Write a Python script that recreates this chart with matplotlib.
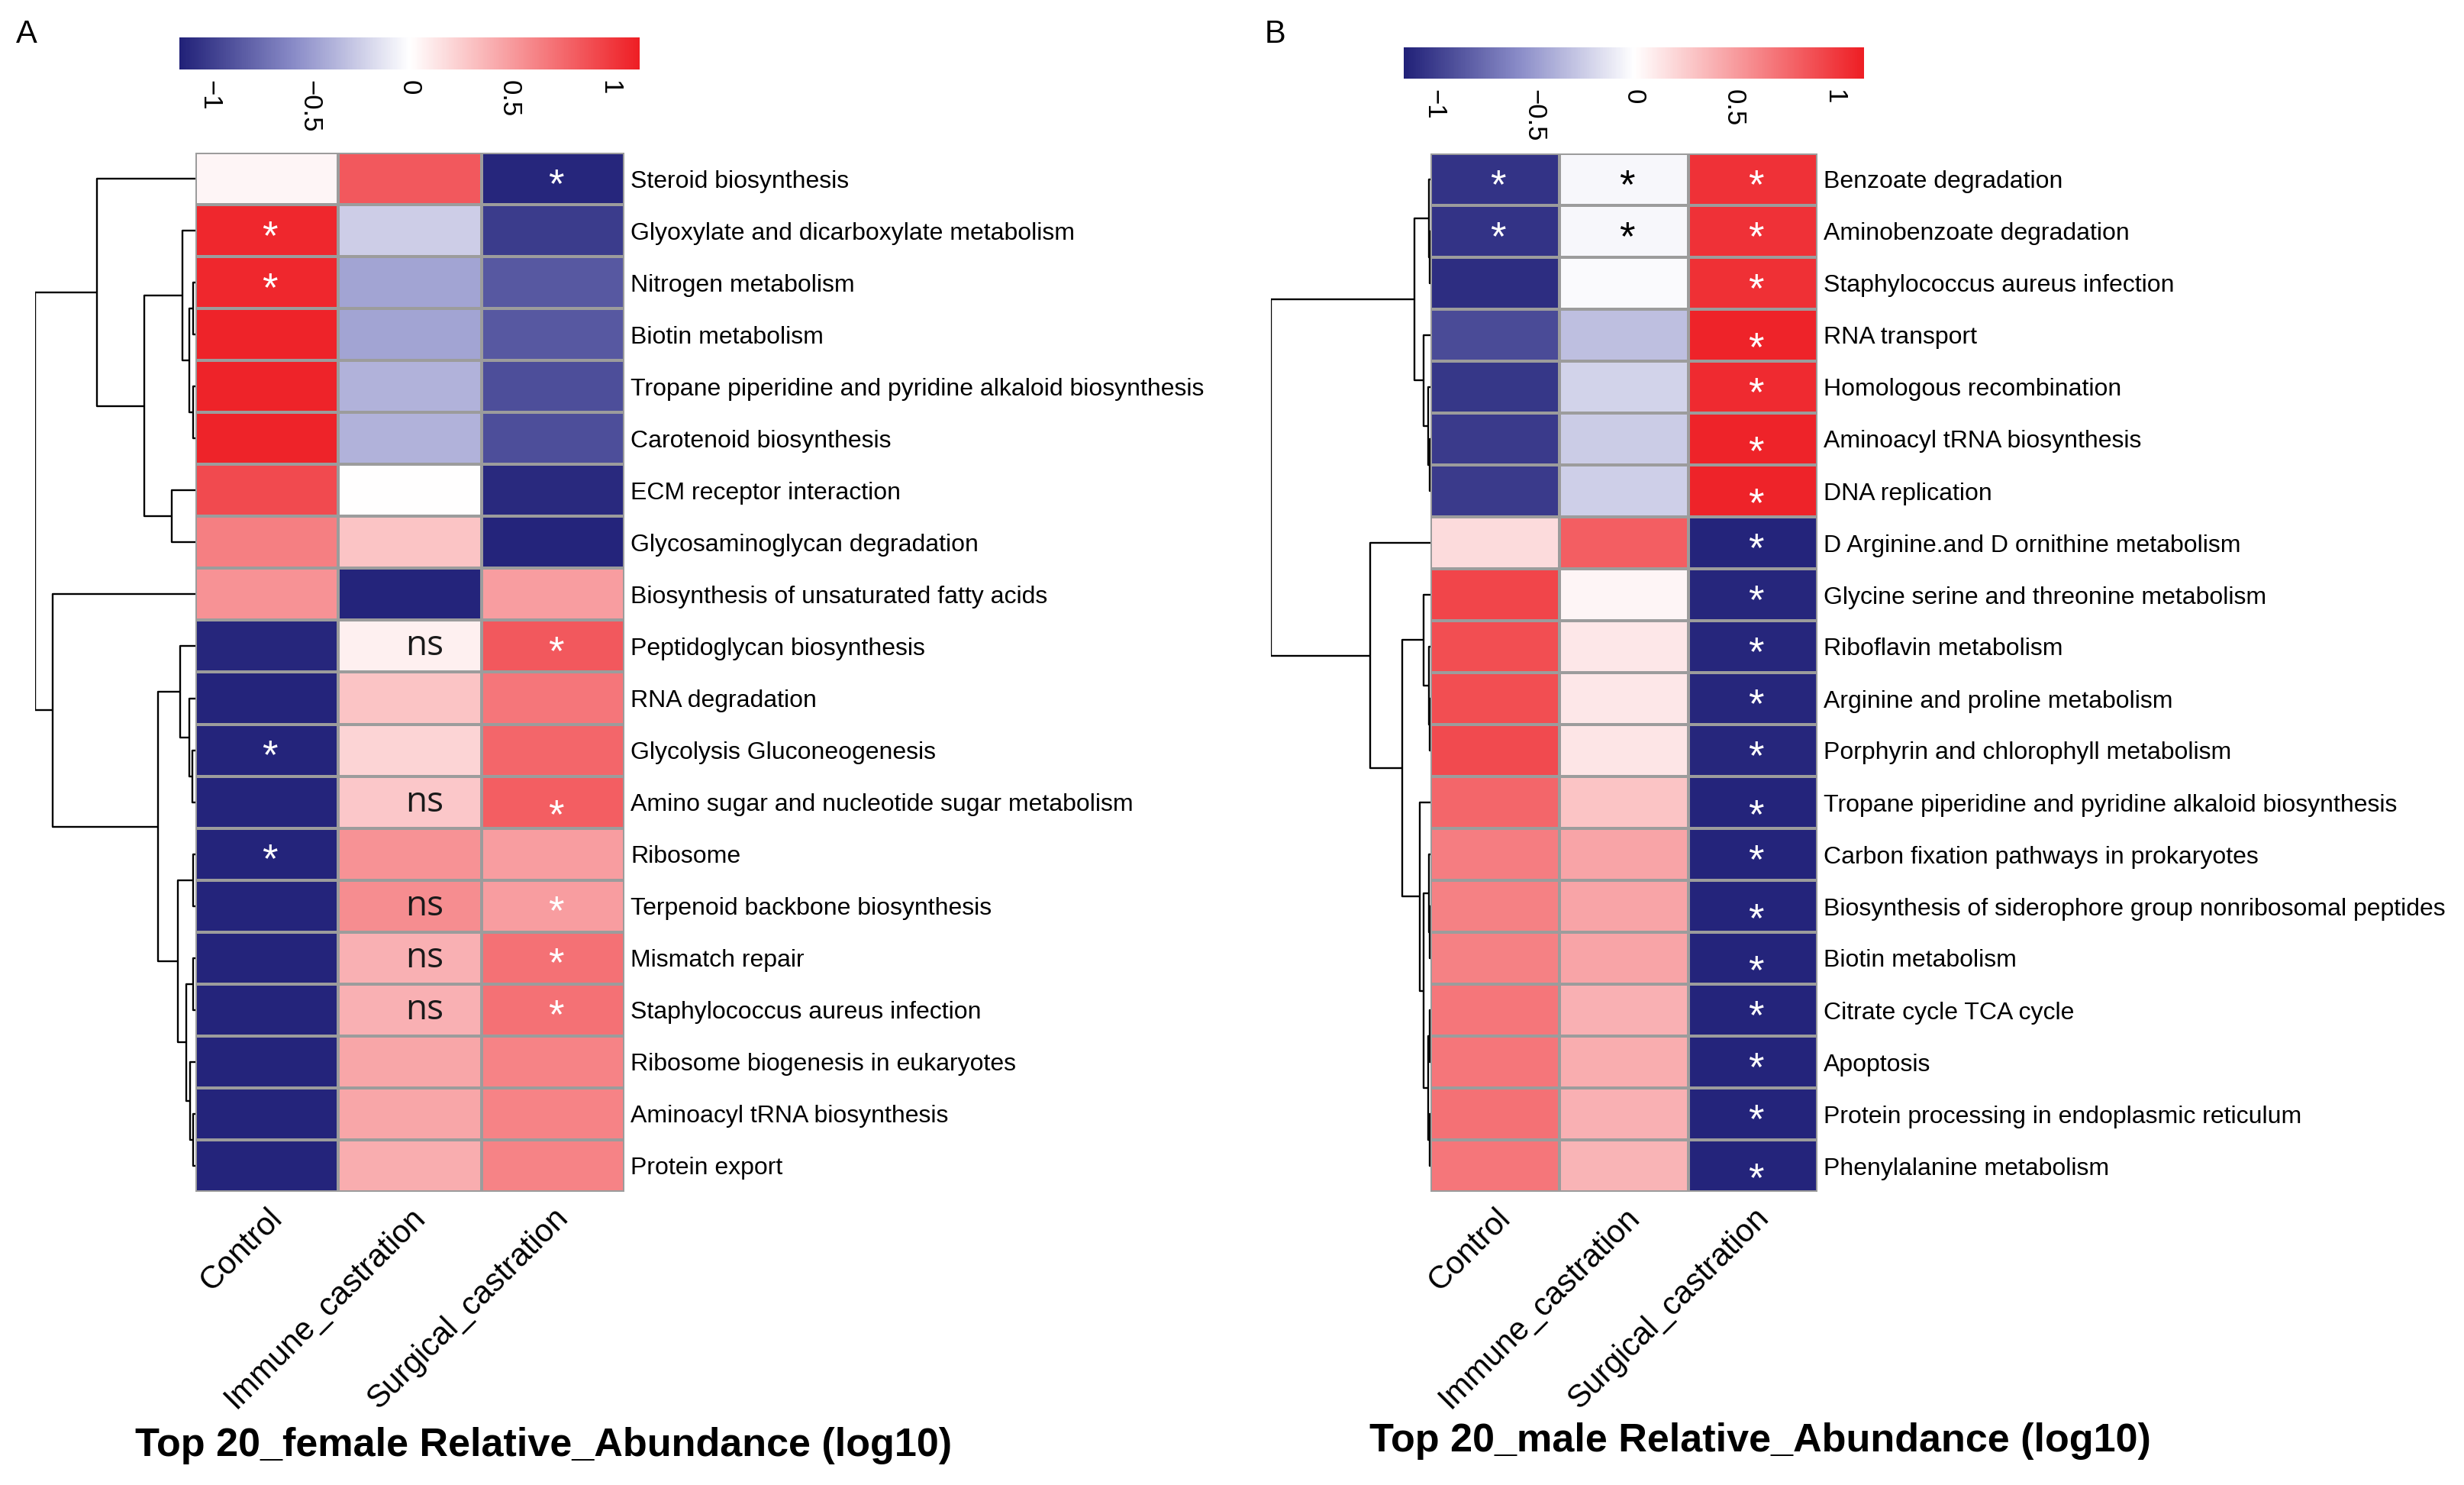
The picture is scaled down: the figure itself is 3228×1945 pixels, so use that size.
import numpy as np
import matplotlib.pyplot as plt
from matplotlib.colors import LinearSegmentedColormap, Normalize
from matplotlib.transforms import ScaledTranslation

plt.rcParams['font.family'] = ['Liberation Sans', 'DejaVu Sans']

groups = ['Control', 'Immune_castration', 'Surgical_castration']

# panel A, female
female_pathways = [
    'Steroid biosynthesis',
    'Glyoxylate and dicarboxylate metabolism',
    'Nitrogen metabolism',
    'Biotin metabolism',
    'Tropane piperidine and pyridine alkaloid biosynthesis',
    'Carotenoid biosynthesis',
    'ECM receptor interaction',
    'Glycosaminoglycan degradation',
    'Biosynthesis of unsaturated fatty acids',
    'Peptidoglycan biosynthesis',
    'RNA degradation',
    'Glycolysis Gluconeogenesis',
    'Amino sugar and nucleotide sugar metabolism',
    'Ribosome',
    'Terpenoid backbone biosynthesis',
    'Mismatch repair',
    'Staphylococcus aureus infection',
    'Ribosome biogenesis in eukaryotes',
    'Aminoacyl tRNA biosynthesis',
    'Protein export',
]
female_values = [
    [0.05, 0.85, -1.12],
    [1.10, -0.25, -1.00],
    [1.10, -0.45, -0.85],
    [1.12, -0.45, -0.85],
    [1.12, -0.38, -0.90],
    [1.12, -0.38, -0.90],
    [0.92, 0.00, -1.10],
    [0.65, 0.30, -1.13],
    [0.55, -1.13, 0.50],
    [-1.12, 0.08, 0.85],
    [-1.13, 0.30, 0.70],
    [-1.13, 0.22, 0.78],
    [-1.13, 0.28, 0.82],
    [-1.13, 0.55, 0.50],
    [-1.13, 0.58, 0.50],
    [-1.13, 0.40, 0.72],
    [-1.13, 0.40, 0.72],
    [-1.13, 0.45, 0.63],
    [-1.13, 0.45, 0.63],
    [-1.13, 0.42, 0.63],
]
female_marks = [
    ['', '', '*'], ['*', '', ''], ['*', '', ''], ['', '', ''], ['', '', ''],
    ['', '', ''], ['', '', ''], ['', '', ''], ['', '', ''], ['', 'ns', '*'],
    ['', '', ''], ['*', '', ''], ['', 'ns', '*'], ['*', '', ''], ['', 'ns', '*'],
    ['', 'ns', '*'], ['', 'ns', '*'], ['', '', ''], ['', '', ''], ['', '', ''],
]
female_low_stars = [(12, 2)]
# row dendrogram: (merge height, left, right), leaves are row numbers
female_tree = (210, (129, 0, (66.7, (16.7, 1, (8.3, (2.7, 2, 3), (2.7, 4, 5))), (31, 6, 7))),
               (187, 8, (49, (20, 9, (8.3, 10, (4, 11, 12))),
                         (22.7, (2.7, 13, 14), (11.7, (2.7, 15, 16), (6.7, 17, (3.3, 18, 19)))))))

# panel B, male
male_pathways = [
    'Benzoate degradation',
    'Aminobenzoate degradation',
    'Staphylococcus aureus infection',
    'RNA transport',
    'Homologous recombination',
    'Aminoacyl tRNA biosynthesis',
    'DNA replication',
    'D Arginine.and D ornithine metabolism',
    'Glycine serine and threonine metabolism',
    'Riboflavin metabolism',
    'Arginine and proline metabolism',
    'Porphyrin and chlorophyll metabolism',
    'Tropane piperidine and pyridine alkaloid biosynthesis',
    'Carbon fixation pathways in prokaryotes',
    'Biosynthesis of siderophore group nonribosomal peptides',
    'Biotin metabolism',
    'Citrate cycle TCA cycle',
    'Apoptosis',
    'Protein processing in endoplasmic reticulum',
    'Phenylalanine metabolism',
]
male_values = [
    [-1.05, -0.04, 1.05],
    [-1.05, -0.04, 1.05],
    [-1.08, -0.02, 1.06],
    [-0.92, -0.32, 1.12],
    [-1.03, -0.22, 1.08],
    [-1.01, -0.26, 1.12],
    [-1.01, -0.24, 1.12],
    [0.18, 0.82, -1.13],
    [0.95, 0.05, -1.12],
    [0.90, 0.12, -1.12],
    [0.90, 0.12, -1.12],
    [0.92, 0.13, -1.12],
    [0.78, 0.30, -1.13],
    [0.66, 0.46, -1.13],
    [0.64, 0.46, -1.13],
    [0.64, 0.46, -1.13],
    [0.70, 0.40, -1.13],
    [0.70, 0.42, -1.13],
    [0.72, 0.40, -1.13],
    [0.70, 0.38, -1.13],
]
male_marks = [['*', '*', '*'], ['*', '*', '*']] + [['', '', '*'] for i in range(18)]
male_low_stars = [(3, 2), (5, 2), (6, 2), (12, 2), (14, 2), (15, 2), (19, 2)]
male_tree = (208.7, (21, (2, 0, (1, 1, 2)), (8.7, 3, (3.3, 4, (1, 5, 6)))),
             (78.7, 7, (36.7, (8.7, 8, (2, 9, (1, 10, 11))),
                        (14.3, 12, (8.7, (2, 13, (1, 14, 15)), (2.7, (1, 16, 17), (1, 18, 19)))))))

W, H = 3228, 1945
fig = plt.figure(figsize=(W / 100, H / 100), dpi=100)

cmap = LinearSegmentedColormap.from_list(
    'navy_red', [(0, '#212178'), (0.25, '#8a8cc8'), (0.5, '#ffffff'), (1, '#ee1e24')])
norm = Normalize(vmin=-1.15, vmax=1.15)


def box(x0, y0, x1, y1):
    # pixel box -> figure fraction rect
    return [x0 / W, 1 - y1 / H, (x1 - x0) / W, (y1 - y0) / H]


def draw_tree(ax, node):
    if isinstance(node, int):
        return node + 0.5, 0.0
    h, left, right = node
    y1, h1 = draw_tree(ax, left)
    y2, h2 = draw_tree(ax, right)
    ax.plot([h1, h, h, h2], [y1, y1, y2, y2], color='black', lw=1.7, solid_capstyle='butt')
    return (y1 + y2) / 2, h


def draw_panel(pathways, values, marks, low_stars, tree, hm, cb, title, title_xy, letter_xy, letter):
    values = np.array(values)
    n = len(pathways)

    ax = fig.add_axes(box(*hm))
    mesh = ax.pcolormesh(values, cmap=cmap, norm=norm, edgecolors='#9c9c9c', linewidth=1.6)
    ax.set_xlim(0, 3)
    ax.set_ylim(n, 0)
    ax.yaxis.tick_right()
    ax.set_yticks(np.arange(n) + 0.5)
    ax.set_yticklabels(pathways, fontsize=23)
    ax.set_xticks(np.arange(3) + 0.5)
    ax.set_xticklabels(groups, fontsize=30, rotation=45, ha='right', rotation_mode='anchor')
    ax.tick_params(length=0)
    ax.tick_params(axis='y', pad=6)
    ax.tick_params(axis='x', pad=10)
    for s in ax.spines.values():
        s.set_visible(False)

    for i in range(n):
        for j in range(3):
            m = marks[i][j]
            if m == '*':
                dy = -14 if (i, j) in low_stars else -7
                col = 'black' if abs(values[i, j]) < 0.3 else 'white'
                ax.text(j + 0.52, i + 0.5, '*', ha='center', va='center', fontsize=38, color=col,
                        transform=ax.transData + ScaledTranslation(0, dy / 72, fig.dpi_scale_trans))
            elif m == 'ns':
                ax.text(j + 0.6, i + 0.5, 'ns', ha='center', va='center', fontsize=33,
                        color='#1a1a1a', family='Open Sans')

    dax = fig.add_axes(box(hm[0] - tree[0], hm[1], hm[0], hm[3]))
    draw_tree(dax, tree)
    dax.set_xlim(tree[0], 0)
    dax.set_ylim(n, 0)
    dax.axis('off')

    cax = fig.add_axes(box(*cb))
    bar = fig.colorbar(mesh, cax=cax, orientation='horizontal')
    bar.outline.set_visible(False)
    bar.set_ticks([-1, -0.5, 0, 0.5, 1])
    bar.set_ticklabels(['\u22121', '\u22120.5', '0', '0.5', '1'])
    cax.tick_params(length=0, labelsize=25, labelrotation=270, pad=10)
    for lab in cax.get_xticklabels():
        lab.set_va('top')

    fig.text(title_xy[0] / W, 1 - title_xy[1] / H, title, ha='center', va='center',
             fontsize=37.5, fontweight='bold')
    fig.text(letter_xy[0] / W, 1 - letter_xy[1] / H, letter, ha='center', va='center', fontsize=30)


draw_panel(female_pathways, female_values, female_marks, female_low_stars, female_tree,
           (256, 200, 818, 1561), (235, 49, 838, 91),
           'Top 20_female Relative_Abundance (log10)', (712, 1893), (35, 45), 'A')
draw_panel(male_pathways, male_values, male_marks, male_low_stars, male_tree,
           (1874, 201, 2381, 1561), (1839, 62, 2442, 103),
           'Top 20_male Relative_Abundance (log10)', (2306, 1887), (1670, 45), 'B')

fig.savefig('out.png', dpi=100)
